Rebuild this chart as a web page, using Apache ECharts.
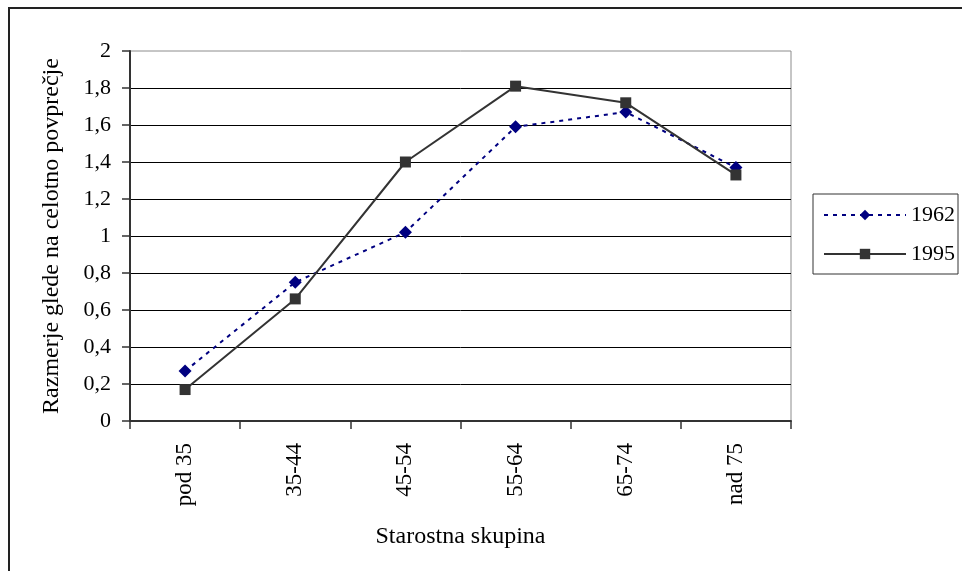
<!DOCTYPE html>
<html>
<head>
<meta charset="utf-8">
<script src="https://cdn.jsdelivr.net/npm/echarts@6/dist/echarts.min.js"></script>
<style>
  html, body { margin: 0; padding: 0; background: #fff; }
  #chart { width: 962px; height: 571px; }
</style>
</head>
<body>
<div id="chart"></div>
<script>
// Age groups on the x axis
const categories = ['pod 35', '35-44', '45-54', '55-64', '65-74', 'nad 75'];
// Ratio to the overall average, by year
const values1962 = [0.27, 0.75, 1.02, 1.59, 1.67, 1.37];
const values1995 = [0.17, 0.66, 1.40, 1.81, 1.72, 1.33];
const seriesNames = ['1962', '1995'];

const FONT = 'Liberation Serif';
const chart = echarts.init(document.getElementById('chart'), null, { renderer: 'canvas' });

chart.setOption({
  backgroundColor: '#fff',
  animation: false,
  textStyle: { fontFamily: FONT, color: '#000' },
  graphic: [{
    type: 'rect',
    shape: { x: 9, y: 8, width: 962, height: 571 },
    style: { fill: 'none', stroke: '#222', lineWidth: 2 },
    silent: true
  }],
  grid: {
    left: 130, top: 51, right: 171, bottom: 150,
    show: true, borderColor: '#8c8c8c', borderWidth: 1, backgroundColor: 'transparent'
  },
  legend: {
    orient: 'vertical',
    left: 813, top: 194,
    padding: [10, 3, 9, 10],
    borderColor: '#333', borderWidth: 1,
    itemWidth: 82, itemHeight: 13, itemGap: 17,
    textStyle: { fontFamily: FONT, fontSize: 22, color: '#000' },
    data: seriesNames
  },
  xAxis: {
    type: 'category',
    data: categories,
    boundaryGap: true,
    name: 'Starostna skupina',
    nameLocation: 'middle',
    nameGap: 104,
    nameTextStyle: { fontFamily: FONT, fontSize: 24, color: '#000' },
    axisLine: { lineStyle: { color: '#333', width: 2 } },
    axisTick: { show: true, length: 8, lineStyle: { color: '#333', width: 1.5 } },
    axisLabel: { rotate: 90, margin: 22, fontFamily: FONT, fontSize: 23, color: '#000' },
    splitLine: { show: false }
  },
  yAxis: {
    type: 'value',
    min: 0, max: 2, interval: 0.2,
    name: 'Razmerje glede na celotno povprečje',
    nameLocation: 'middle',
    nameGap: 66,
    nameRotate: 90,
    nameTextStyle: { fontFamily: FONT, fontSize: 24, color: '#000' },
    axisLine: { show: true, lineStyle: { color: '#333', width: 2 } },
    axisTick: { show: true, length: 8, lineStyle: { color: '#333', width: 1.5 } },
    axisLabel: {
      margin: 19, fontFamily: FONT, fontSize: 22, color: '#000',
      formatter: v => (Math.round(v * 10) / 10).toString().replace('.', ',')
    },
    splitLine: { show: true, showMaxLine: false, lineStyle: { color: '#000', width: 1 } }
  },
  series: [
    {
      name: seriesNames[0],
      type: 'line',
      data: values1962,
      symbol: 'diamond',
      symbolSize: 13,
      itemStyle: { color: '#000080' },
      lineStyle: { color: '#000080', width: 2, type: [4, 5] },
      z: 3
    },
    {
      name: seriesNames[1],
      type: 'line',
      data: values1995,
      symbol: 'rect',
      symbolSize: 11,
      itemStyle: { color: '#333333' },
      lineStyle: { color: '#333333', width: 2, type: 'solid' },
      z: 4
    }
  ]
});
</script>
</body>
</html>
